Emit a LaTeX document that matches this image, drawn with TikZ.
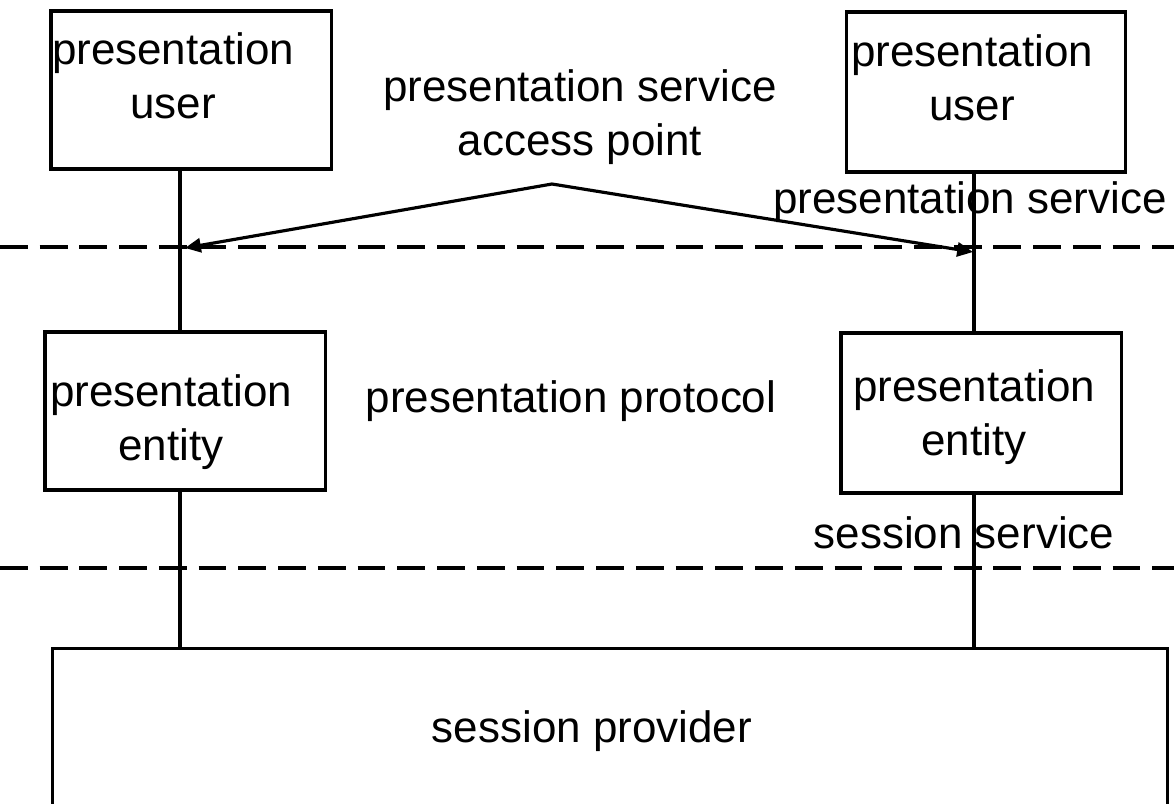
\documentclass[tikz,border=0pt]{standalone}
\usepackage{fontspec}
\setmainfont{Liberation Sans}
\usetikzlibrary{arrows.meta,positioning}
\tikzset{
  LayerBox/.style={draw, line width=0.9pt, inner sep=0pt},
  LayerText/.style={
    align=center, anchor=base, inner sep=0pt,
    font=\fontsize{12.5}{15.3}\selectfont
  },
  Boundary/.style={line width=0.9pt, dash pattern=on 7.9pt off 3.4pt},
  Link/.style={line width=0.9pt},
  SapArrow/.style={line width=0.9pt, -{Triangle[length=4.5pt,width=4pt]}}
}

\begin{document}
\begin{tikzpicture}[x=0.01cm, y=-0.01cm, line join=miter]
  \useasboundingbox (0,0) rectangle (1174,803);
  \clip (0,0) rectangle (1174,803);

  % layer boundaries
  \coordinate (psW) at (0,247);
  \coordinate (psE) at (1174,247);
  \coordinate (ssW) at (0,568);
  \coordinate (ssE) at (1174,568);
  \draw[Boundary] (psW) -- (psE);
  \draw[Boundary] (ssW) -- (ssE);

  % boxes
  \node[LayerBox, minimum width=2.8cm, minimum height=1.58cm] (puL) at (191,90) {};
  \node[LayerBox, minimum width=2.79cm, minimum height=1.6cm] (puR) at (986,92) {};
  \node[LayerBox, minimum width=2.8cm, minimum height=1.58cm] (peL) at (185,411) {};
  \node[LayerBox, minimum width=2.8cm, minimum height=1.6cm] (peR) at (981,413) {};
  \node[LayerBox, minimum width=11.14cm, minimum height=2.2cm, anchor=north west] (sp) at (51,647) {};

  % box texts (base = last line)
  \node[LayerText] (puLtxt) at (173,118) {presentation\\user};
  \node[LayerText] (puRtxt) at (972,120) {presentation\\user};
  \node[LayerText] (peLtxt) at (171,460) {presentation\\entity};
  \node[LayerText] (peRtxt) at (974,455) {presentation\\entity};
  \node[LayerText] (spTxt) at (592,742) {session provider};

  % free texts
  \node[LayerText] (sapTxt) at (580,155) {presentation service\\access point};
  \node[LayerText] (psTxt) at (970,213) {presentation service};
  \node[LayerText] (ppTxt) at (571,412) {presentation protocol};
  \node[LayerText] (ssTxt) at (964,548) {session service};

  % vertical links
  \coordinate (xL) at (180,0);
  \coordinate (xR) at (974,0);
  \draw[Link] (puL.south -| xL) -- (peL.north -| xL);
  \draw[Link] (peL.south -| xL) -- (sp.north -| xL);
  \draw[Link] (puR.south -| xR) -- (peR.north -| xR);
  \draw[Link] (peR.south -| xR) -- (sp.north -| xR);

  % service access points
  \coordinate (sap) at (552,184);
  \coordinate (sapL) at (185,248);
  \coordinate (sapR) at (973,252);
  \draw[SapArrow] (sap) -- (sapL);
  \draw[SapArrow] (sap) -- (sapR);
\end{tikzpicture}
\end{document}
